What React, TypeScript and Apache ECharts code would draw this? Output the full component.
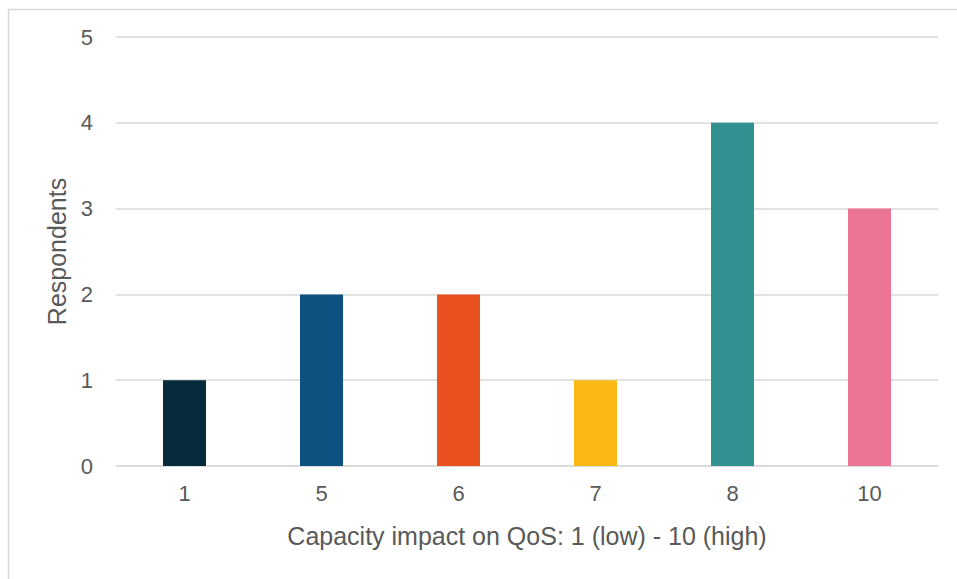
import React, { useEffect, useRef } from "react";
import * as echarts from "echarts";

const categories = ["1", "5", "6", "7", "8", "10"];
const respondents = [1, 2, 2, 1, 4, 3];
const barColors = ["#082a3d", "#0e5282", "#e8501f", "#fab914", "#339192", "#ec7595"];

const FONT = "'Liberation Sans', Arial, sans-serif";

export default function App() {
  const ref = useRef<HTMLDivElement>(null);

  useEffect(() => {
    document.body.style.margin = "0";
    const chart = echarts.init(ref.current!, null, { renderer: "svg" });
    chart.setOption({
      animation: false,
      backgroundColor: "#ffffff",
      graphic: [
        {
          type: "rect",
          left: 6,
          top: 7,
          shape: { width: 1000, height: 620 },
          style: { fill: "none", stroke: "#d9d9d9", lineWidth: 1.5 },
          silent: true,
        },
      ],
      grid: { left: 116, right: 19, top: 37, bottom: 113 },
      xAxis: {
        type: "category",
        data: categories,
        name: "Capacity impact on QoS: 1 (low) - 10 (high)",
        nameLocation: "middle",
        nameGap: 57,
        nameTextStyle: { color: "#595959", fontSize: 25, fontFamily: FONT },
        axisLine: { show: true, lineStyle: { color: "#d9d9d9", width: 1.5 } },
        axisTick: { show: false },
        axisLabel: { color: "#595959", fontSize: 22, fontFamily: FONT, margin: 16 },
      },
      yAxis: {
        type: "value",
        min: 0,
        max: 5,
        interval: 1,
        name: "Respondents",
        nameLocation: "middle",
        nameGap: 47,
        nameRotate: 90,
        nameTextStyle: { color: "#595959", fontSize: 25, fontFamily: FONT },
        axisLine: { show: false },
        axisTick: { show: false },
        axisLabel: { color: "#595959", fontSize: 22, fontFamily: FONT, margin: 23 },
        splitLine: { lineStyle: { color: "#d9d9d9", width: 1.5 } },
      },
      series: [
        {
          type: "bar",
          barWidth: 43,
          data: respondents.map((v, i) => ({ value: v, itemStyle: { color: barColors[i] } })),
        },
      ],
    });
    return () => chart.dispose();
  }, []);

  return <div ref={ref} style={{ width: 957, height: 579 }} />;
}
